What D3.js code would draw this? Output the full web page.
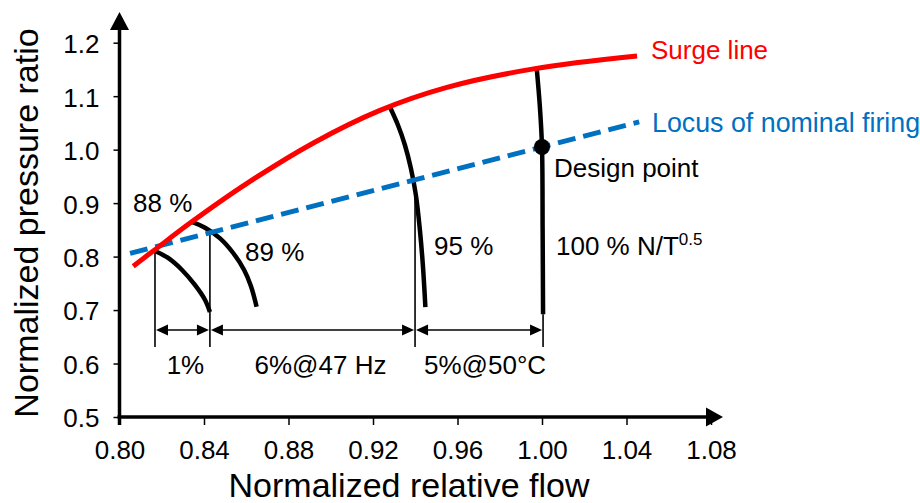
<!DOCTYPE html>
<html><head><meta charset="utf-8">
<script src="https://cdn.jsdelivr.net/npm/d3@7"></script>
<style>
html,body{margin:0;padding:0;background:#fff;}
svg{display:block;font-family:"Liberation Sans",Arial,sans-serif;}
</style></head>
<body>
<svg id="c" width="920" height="503"></svg>
<script>
// ---- data ----
const xTicks = [0.80, 0.84, 0.88, 0.92, 0.96, 1.00, 1.04, 1.08];
const yTicks = [0.5, 0.6, 0.7, 0.8, 0.9, 1.0, 1.1, 1.2];
const surgeX = [0.8065, 0.8168, 0.8342, 0.860, 0.892, 0.923, 0.955, 0.996, 1.045];
const surgeY = [0.782, 0.813, 0.865, 0.936, 1.013, 1.073, 1.1165, 1.151, 1.175];
const locusX = [0.805, 1.046];
const locusY = [0.806, 1.052];
const n88X = [0.8168, 0.8230, 0.8296, 0.8357, 0.8405, 0.8428];
const n88Y = [0.8105, 0.7974, 0.7749, 0.7469, 0.7188, 0.6964];
const n89X = [0.8342, 0.8405, 0.8476, 0.8538, 0.8590, 0.8622, 0.8649];
const n89Y = [0.8650, 0.8540, 0.8340, 0.8067, 0.7749, 0.7450, 0.7063];
const n95X = [0.9280, 0.9318, 0.9351, 0.9379, 0.9403, 0.9422, 0.9436, 0.9448];
const n95Y = [1.0798, 1.0461, 1.0087, 0.9657, 0.9152, 0.8498, 0.7843, 0.7057];
const n100X = [0.9975, 0.9990, 1.0000, 1.0003, 1.0005];
const n100Y = [1.152, 1.080, 1.005, 0.850, 0.692];
const designX = 1.0, designY = 1.005;
const dimX = [0.8168, 0.8428, 0.9399, 1.0005];
const dimTopY = [0.8105, 0.8440, 0.9420, 0.692];
const dimBottomY = 0.631;
const dimArrowY = 0.6627;
const dimLabels = ["1%", "6%@47 Hz", "5%@50°C"];
const speedLabels = ["88 %", "89 %", "95 %"];

// ---- scales ----
const svg = d3.select("#c");
const x = d3.scaleLinear().domain([0.80, 1.08]).range([119.5, 711]);
const y = d3.scaleLinear().domain([0.5, 1.2]).range([417, 42.7]);
const FS = 26;
const RED = "#ff0000", BLUE = "#0070c0";

// ---- axes ----
const xa = svg.append("g").attr("transform", `translate(0,${y(0.5)})`)
  .call(d3.axisBottom(x).tickValues(xTicks).tickFormat(d3.format(".2f")).tickSize(8).tickSizeOuter(0));
xa.select(".domain").remove();
xa.selectAll(".tick line").attr("stroke", "#000").attr("stroke-width", 1.5);
xa.selectAll(".tick text").attr("font-size", FS).attr("font-family", "Liberation Sans, Arial, sans-serif")
  .attr("fill", "#000").attr("y", 24).attr("dy", "0.71em");

const ya = svg.append("g").attr("transform", `translate(${x(0.80)},0)`)
  .call(d3.axisLeft(y).tickValues(yTicks).tickFormat(d3.format(".1f")).tickSize(6).tickSizeOuter(0));
ya.select(".domain").remove();
ya.selectAll(".tick line").attr("stroke", "#000").attr("stroke-width", 1.5);
ya.selectAll(".tick text").attr("font-size", FS).attr("font-family", "Liberation Sans, Arial, sans-serif")
  .attr("fill", "#000").attr("x", -20).attr("dy", "0.38em");

// axis lines with arrows
const x0 = x(0.80), y0 = y(0.5);
svg.append("line").attr("x1", x0 - 2).attr("x2", 706).attr("y1", y0).attr("y2", y0)
  .attr("stroke", "#000").attr("stroke-width", 3.5);
svg.append("path").attr("d", `M706,${y0 - 9.5}L723,${y0}L706,${y0 + 9.5}Z`).attr("fill", "#000");
svg.append("line").attr("x1", x0).attr("x2", x0).attr("y1", y0 + 8).attr("y2", 29)
  .attr("stroke", "#000").attr("stroke-width", 3.5);
svg.append("path").attr("d", `M${x0 - 9.5},30L${x0},12L${x0 + 9.5},30Z`).attr("fill", "#000");

// axis titles
svg.append("text").attr("x", 409).attr("y", 497).attr("text-anchor", "middle")
  .attr("font-size", 34).text("Normalized relative flow");
svg.append("text").attr("transform", "translate(38,223) rotate(-90)").attr("text-anchor", "middle")
  .attr("font-size", 34).text("Normalized pressure ratio");

// ---- curves ----
const zip = (xs, ys) => xs.map((v, i) => [v, ys[i]]);
const line = d3.line().x(d => x(d[0])).y(d => y(d[1])).curve(d3.curveCatmullRom.alpha(0.5));

// dimension lines (thin)
const thin = svg.append("g").attr("stroke", "#000").attr("stroke-width", 1.6);
dimX.forEach((dx, i) => {
  thin.append("line").attr("x1", x(dx)).attr("x2", x(dx))
    .attr("y1", y(dimTopY[i])).attr("y2", y(dimBottomY));
});
const ay = y(dimArrowY);
const labelShift = [3, 8, 6];
for (let i = 0; i < dimX.length - 1; i++) {
  const a = x(dimX[i]) + 1, b = x(dimX[i + 1]) - 1;
  thin.append("line").attr("x1", a + 8).attr("x2", b - 8).attr("y1", ay).attr("y2", ay);
  svg.append("path").attr("fill", "#000")
    .attr("d", `M${a},${ay}L${a + 12},${ay - 5.5}L${a + 12},${ay + 5.5}Z`);
  svg.append("path").attr("fill", "#000")
    .attr("d", `M${b},${ay}L${b - 12},${ay - 5.5}L${b - 12},${ay + 5.5}Z`);
  svg.append("text").attr("x", (a + b) / 2 + labelShift[i]).attr("y", 374).attr("text-anchor", "middle")
    .attr("font-size", FS).text(dimLabels[i]);
}

// speed lines
[[n88X, n88Y], [n89X, n89Y], [n95X, n95Y], [n100X, n100Y]].forEach(([xs, ys]) => {
  svg.append("path").datum(zip(xs, ys)).attr("d", line)
    .attr("fill", "none").attr("stroke", "#000").attr("stroke-width", 4.5);
});

// locus of nominal firing
svg.append("path").datum(zip(locusX, locusY)).attr("d", d3.line().x(d => x(d[0])).y(d => y(d[1])))
  .attr("fill", "none").attr("stroke", BLUE).attr("stroke-width", 5).attr("stroke-dasharray", "18,8");

// surge line
svg.append("path").datum(zip(surgeX, surgeY)).attr("d", line)
  .attr("fill", "none").attr("stroke", RED).attr("stroke-width", 5);

// design point
svg.append("circle").attr("cx", x(designX)).attr("cy", y(designY)).attr("r", 8).attr("fill", "#000");

// labels
svg.append("text").attr("x", 133).attr("y", 212).attr("font-size", FS).text(speedLabels[0]);
svg.append("text").attr("x", 245).attr("y", 261).attr("font-size", FS).text(speedLabels[1]);
svg.append("text").attr("x", 434).attr("y", 255).attr("font-size", FS).text(speedLabels[2]);
const t100 = svg.append("text").attr("x", 556).attr("y", 255).attr("font-size", FS);
t100.append("tspan").text("100 % N/T");
t100.append("tspan").attr("font-size", 17).attr("dy", -10).text("0.5");
svg.append("text").attr("x", 554).attr("y", 177).attr("font-size", FS).text("Design point");
svg.append("text").attr("x", 651).attr("y", 59).attr("font-size", FS).attr("fill", RED).text("Surge line");
svg.append("text").attr("x", 652).attr("y", 132).attr("font-size", 26.8).attr("fill", BLUE).text("Locus of nominal firing");
</script>
</body></html>
